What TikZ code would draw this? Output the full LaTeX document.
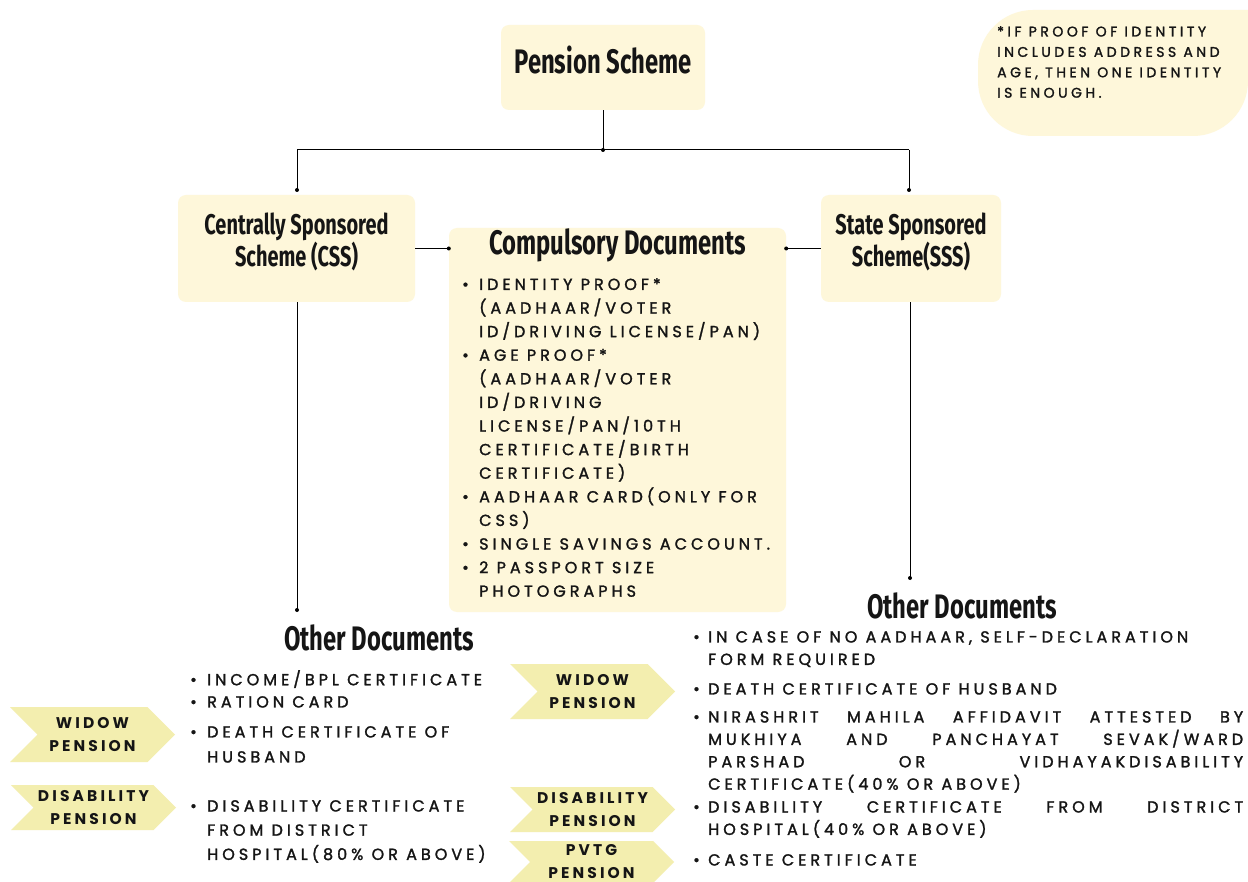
\documentclass[tikz,border=0pt]{standalone}
\usepackage{fontspec}
\setmainfont{Poppins}
\newfontfamily\bodyfont{Poppins}[LetterSpace=25, FakeBold=1.6]
\newfontfamily\chevfont{Poppins}[LetterSpace=20]
\newfontfamily\headfont{Fira Sans}[FakeStretch=0.70]
\usetikzlibrary{shapes.symbols}
\definecolor{boxfill}{HTML}{FEF7DA}
\definecolor{chev}{HTML}{F3EEAF}
\definecolor{txt}{HTML}{151515}
\newcommand{\bl}{\makebox[17pt][l]{\textbullet}}
\newcommand{\ind}{\hspace*{17pt}}
\newcommand{\br}{\makebox[15pt][l]{\textbullet}}
\newcommand{\indr}{\hspace*{15pt}}
\newcommand{\jl}[1]{\makebox[535pt][s]{#1}}
\begin{document}
\begin{tikzpicture}[x=1pt,y=-1pt,
  box/.style={fill=boxfill, rounded corners=8pt, draw=none, inner sep=0},
  headbig/.style={font=\headfont\bfseries\fontsize{34}{36}\selectfont, text=txt, inner sep=0},
  headmid/.style={font=\headfont\bfseries\fontsize{28.5}{32}\selectfont, text=txt, inner sep=0, align=center},
  lst/.style={font=\bodyfont\fontsize{16}{23.6}\selectfont, text=txt, align=left, anchor=north west, inner sep=0},
  lstr/.style={font=\bodyfont\fontsize{16}{22.4}\selectfont, text=txt, align=left, anchor=north west, inner sep=0},
  chevron/.style={signal, signal to=east, signal from=west, signal pointer angle=90, fill=chev, draw=none,
     minimum width=165pt, minimum height=55pt, inner sep=0, text=txt,
     font=\chevfont\bfseries\fontsize{15.5}{23}\selectfont, align=center},
  conn/.style={draw=black, line width=1pt},
  dotn/.style={circle, fill=black, inner sep=0, minimum size=4pt}
]
\useasboundingbox (0,0) rectangle (1248,882);
\fill[white] (0,0) rectangle (1248,882);

% note box
\fill[boxfill, rounded corners=55pt] (1248,10) -- (978,10) -- (978,136) -- (1248,136) [sharp corners] -- cycle;
\node[font=\bodyfont\fontsize{14}{20.4}\selectfont, text=txt, align=left, anchor=north west, inner sep=0] (note) at (997,26)
  {*IF PROOF OF IDENTITY\\INCLUDES ADDRESS AND\\AGE, THEN ONE IDENTITY\\IS ENOUGH.};

% boxes
\node[box, minimum width=204pt, minimum height=85pt] (ps) at (603,67.5) {};
\node[headbig] (pst) at (603,60) {Pension Scheme};
\node[box, minimum width=237pt, minimum height=107pt] (css) at (296.5,248.5) {};
\node[headmid] (csst) at (296.5,242) {Centrally Sponsored\\Scheme (CSS)};
\node[box, minimum width=180pt, minimum height=107pt] (sss) at (911,248.5) {};
\node[headmid] (ssst) at (911,242) {State Sponsored\\Scheme(SSS)};
\node[box, minimum width=337pt, minimum height=384pt] (cd) at (617.5,420) {};
\node[headbig] (cdt) at (617.5,245) {Compulsory Documents};

\node[lst] (cdl) at (462,278) {\bl IDENTITY PROOF*\\
\ind (AADHAAR/VOTER\\
\ind ID/DRIVING LICENSE/PAN)\\
\bl AGE PROOF*\\
\ind (AADHAAR/VOTER\\
\ind ID/DRIVING\\
\ind LICENSE/PAN/10TH\\
\ind CERTIFICATE/BIRTH\\
\ind CERTIFICATE)\\
\bl AADHAAR CARD(ONLY FOR\\
\ind CSS)\\
\bl SINGLE SAVINGS ACCOUNT.\\
\bl 2 PASSPORT SIZE\\
\ind PHOTOGRAPHS};

% connectors
\coordinate (j) at (603,150);
\coordinate (jl) at (297,150);
\coordinate (jr) at (909,150);
\coordinate (cssin) at (297,190);
\coordinate (sssin) at (909,190);
\coordinate (lend) at (297,610);
\coordinate (rend) at (910,578);
\draw[conn] (ps.south) -- (j);
\draw[conn] (jl) -- (jr);
\draw[conn] (jl) -- (cssin);
\draw[conn] (jr) -- (sssin);
\node[dotn] at (j) {};
\node[dotn] at (cssin) {};
\node[dotn] at (sssin) {};
\draw[conn] (css.east) -- (css.east -| cd.west) node[dotn] {};
\draw[conn] (sss.west) -- (sss.west -| cd.east) node[dotn] {};
\draw[conn] (css.south -| lend) -- (lend) node[dotn] {};
\draw[conn] (sss.south -| rend) -- (rend) node[dotn] {};

% other documents
\node[headbig] (odl) at (379,638) {Other Documents};
\node[headbig] (odr) at (962,606) {Other Documents};

% left list
\node[lst] (l1) at (190,670) {\bl INCOME/BPL CERTIFICATE};
\node[lst] (l2) at (190,696) {\bl RATION CARD};
\node[lst,font=\bodyfont\fontsize{16}{25}\selectfont] (l3) at (190,726) {\bl DEATH CERTIFICATE OF\\\ind HUSBAND};
\node[lst,font=\bodyfont\fontsize{16}{24.2}\selectfont] (l4) at (190,800) {\bl DISABILITY CERTIFICATE\\\ind FROM DISTRICT\\\ind HOSPITAL(80\% OR ABOVE)};

\node[chevron] (cw1) at (92.5,734.5) {WIDOW\\PENSION};
\node[chevron, minimum height=45pt] (cd1) at (93.5,807.5) {DISABILITY\\PENSION};

% right list
\node[lstr] (r1) at (693,631) {\br IN CASE OF NO AADHAAR, SELF-DECLARATION\\\indr FORM REQUIRED};
\node[lstr] (r2) at (693,683) {\br DEATH CERTIFICATE OF HUSBAND};
\node[lstr] (r3) at (693,711) {\br\jl{NIRASHRIT MAHILA AFFIDAVIT ATTESTED BY}\\
\indr\jl{MUKHIYA AND PANCHAYAT SEVAK/WARD}\\
\indr\jl{PARSHAD OR VIDHAYAKDISABILITY}\\
\indr CERTIFICATE(40\% OR ABOVE)};
\node[lstr] (r4) at (693,801) {\br\jl{DISABILITY CERTIFICATE FROM DISTRICT}\\\indr HOSPITAL(40\% OR ABOVE)};
\node[lstr] (r5) at (693,854) {\br CASTE CERTIFICATE};

\node[chevron] (cw2) at (592.5,691.5) {WIDOW\\PENSION};
\node[chevron, minimum height=45pt] (cd2) at (592.5,809.5) {DISABILITY\\PENSION};
\node[chevron, minimum height=42pt] (cp2) at (591.5,862) {PVTG\\PENSION};
\end{tikzpicture}
\end{document}
